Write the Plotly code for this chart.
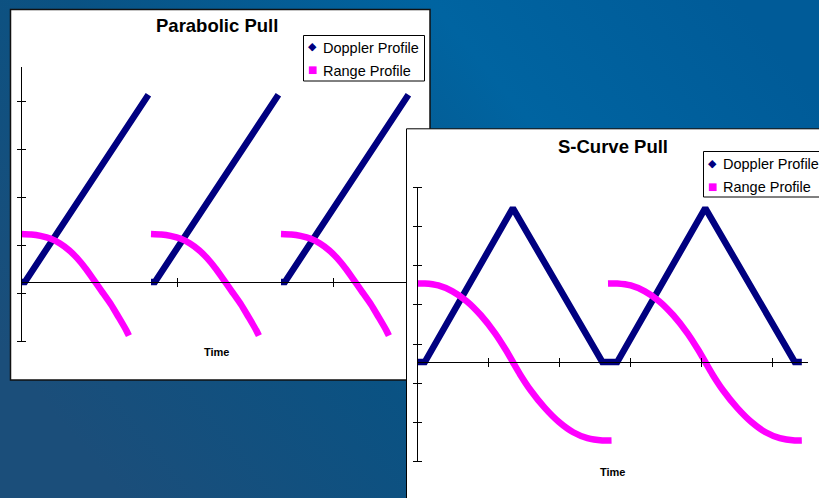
import base64
import plotly.graph_objects as go

# ---------------- data ----------------
# Chart 1: Parabolic Pull  (time axis: one pull cycle = 1.0)
para_time = [0.00, 0.03, 0.98, None, 1.00, 1.03, 1.98, None, 2.00, 2.03, 2.98]
para_doppler = [0.00, 0.00, 3.90, None, 0.00, 0.00, 3.90, None, 0.00, 0.00, 3.90]

para_range_time = [
    0.00, 0.08, 0.15, 0.23, 0.30, 0.37, 0.43, 0.50, 0.55, 0.62, 0.69, 0.75, 0.81, 0.83, None,
    1.00, 1.08, 1.15, 1.23, 1.30, 1.37, 1.43, 1.50, 1.55, 1.62, 1.69, 1.75, 1.81, 1.83, None,
    2.00, 2.08, 2.15, 2.23, 2.30, 2.37, 2.43, 2.50, 2.55, 2.62, 2.69, 2.75, 2.81, 2.83,
]
para_range = [
    1.00, 0.99, 0.96, 0.90, 0.80, 0.66, 0.50, 0.27, 0.08, -0.19, -0.46, -0.73, -1.01, -1.12, None,
    1.00, 0.99, 0.96, 0.90, 0.80, 0.66, 0.50, 0.27, 0.08, -0.19, -0.46, -0.73, -1.01, -1.12, None,
    1.00, 0.99, 0.96, 0.90, 0.80, 0.66, 0.50, 0.27, 0.08, -0.19, -0.46, -0.73, -1.01, -1.12,
]
para_xticks = [1.2, 2.4]
para_yticks = [-1.25, -0.25, 0.75, 1.75, 2.75, 3.75]

# Chart 2: S-Curve Pull
scurve_time = [0.00, 0.11, 1.35, 2.61, 2.82, 4.06, 5.32, 5.42]
scurve_doppler = [0.00, 0.00, 3.92, 0.00, 0.00, 3.92, 0.00, 0.00]

scurve_range_time = [
    0.00, 0.11, 0.30, 0.50, 0.70, 0.90, 1.10, 1.25, 1.35, 1.45, 1.60, 1.80, 2.00, 2.20, 2.40, 2.61, 2.74, None,
    2.69, 2.82, 3.01, 3.21, 3.41, 3.61, 3.81, 3.96, 4.06, 4.16, 4.31, 4.51, 4.71, 4.91, 5.11, 5.32, 5.42,
]
scurve_range = [
    2.00, 2.00, 1.95, 1.80, 1.55, 1.19, 0.73, 0.31, 0.00, -0.31, -0.72, -1.17, -1.53, -1.79, -1.94, -2.00, -2.00, None,
    2.00, 2.00, 1.95, 1.80, 1.55, 1.19, 0.73, 0.31, 0.00, -0.31, -0.72, -1.17, -1.53, -1.79, -1.94, -2.00, -2.00,
]
scurve_xticks = [1, 2, 3, 4, 5]
scurve_yticks = [-2.545, -1.545, -0.545, 0.455, 1.455, 2.455, 3.455, 4.455]

series_names = ["Doppler Profile", "Range Profile"]
titles = ["Parabolic Pull", "S-Curve Pull"]
axis_label = "Time"

# ---------------- styling ----------------
W, H = 819, 498
NAVY = "#000080"
MAGENTA = "#ff00ff"
FONT = "Liberation Sans, Arial, sans-serif"


def fx(p):
    return p / W


def fy(p):
    return 1 - p / H


# background gradient (decoration)
svg = (
    '<svg xmlns="http://www.w3.org/2000/svg" width="819" height="498" viewBox="0 0 819 498" '
    'preserveAspectRatio="none"><defs>'
    '<linearGradient id="g" x1="0" y1="0.7" x2="1" y2="0.2">'
    '<stop offset="0" stop-color="#1b4e7a"/>'
    '<stop offset="0.35" stop-color="#0a5283"/>'
    '<stop offset="0.7" stop-color="#0064a1"/>'
    '<stop offset="1" stop-color="#005b98"/>'
    '</linearGradient></defs>'
    '<rect width="819" height="498" fill="url(#g)"/></svg>'
)
bg_uri = "data:image/svg+xml;base64," + base64.b64encode(svg.encode()).decode()

fig = go.Figure()

# Chart 1 traces
fig.add_trace(go.Scatter(x=para_time, y=para_doppler, mode="lines", name=series_names[0],
                         line=dict(color=NAVY, width=6.5), xaxis="x", yaxis="y", hoverinfo="skip"))
fig.add_trace(go.Scatter(x=para_range_time, y=para_range, mode="lines", name=series_names[1],
                         line=dict(color=MAGENTA, width=6.5, shape="spline", smoothing=0.6),
                         xaxis="x", yaxis="y", hoverinfo="skip"))
# overlay axes for crossing tick marks
fig.add_trace(go.Scatter(x=[None], y=[None], mode="lines", xaxis="x4", yaxis="y4", hoverinfo="skip"))

# Chart 2 white panel (decoration, drawn above chart 1)
panel_x = [1.5, 430, 430, 1.5, 1.5]
panel_y = [-0.8, -0.8, -400, -400, -0.8]
fig.add_trace(go.Scatter(x=panel_x, y=panel_y, mode="lines", fill="toself", fillcolor="white",
                         line=dict(color="black", width=1), xaxis="x2", yaxis="y2", hoverinfo="skip"))

# Chart 2 traces
fig.add_trace(go.Scatter(x=scurve_time, y=scurve_doppler, mode="lines", name=series_names[0],
                         line=dict(color=NAVY, width=6.5), xaxis="x3", yaxis="y3", hoverinfo="skip"))
fig.add_trace(go.Scatter(x=scurve_range_time, y=scurve_range, mode="lines", name=series_names[1],
                         line=dict(color=MAGENTA, width=6.5, shape="spline", smoothing=0.6),
                         xaxis="x3", yaxis="y3", hoverinfo="skip"))
fig.add_trace(go.Scatter(x=[None], y=[None], mode="lines", xaxis="x5", yaxis="y5", hoverinfo="skip"))

axis_common = dict(showgrid=False, zeroline=False, showticklabels=False, ticklen=4,
                   tickcolor="black", tickwidth=1, linecolor="black", linewidth=1,
                   tickmode="array", fixedrange=True)

p1_xr = [0, (429 - 21) / 130]
p1_yr = [-1.252, (282 - 67) / 48]
p2_xr = [0, (808 - 417) / 71]
p2_yr = [-2.547, 4.457]

fig.update_layout(
    width=W, height=H, autosize=False,
    margin=dict(l=0, r=0, t=0, b=0),
    paper_bgcolor="#0a5688", plot_bgcolor="rgba(0,0,0,0)",
    showlegend=False,
    images=[dict(source=bg_uri, xref="paper", yref="paper", x=0, y=1, sizex=1, sizey=1,
                 xanchor="left", yanchor="top", sizing="stretch", layer="below")],
    # chart 1
    xaxis=dict(domain=[fx(21), fx(429)], range=p1_xr, anchor="free", position=fy(282),
               showline=True, ticks="outside", tickvals=para_xticks, **axis_common),
    yaxis=dict(domain=[fy(342), fy(67)], range=p1_yr, anchor="free", position=fx(21),
               showline=True, ticks="outside", tickvals=para_yticks, **axis_common),
    xaxis4=dict(overlaying="x", range=p1_xr, anchor="free", position=fy(282), side="top",
                showline=False, ticks="outside", tickvals=para_xticks, **axis_common),
    yaxis4=dict(overlaying="y", range=p1_yr, anchor="free", position=fx(21), side="right",
                showline=False, ticks="outside", tickvals=para_yticks, **axis_common),
    # chart 2 panel
    xaxis2=dict(domain=[fx(405), 1], range=[0, W - 405], anchor="y2", visible=False, fixedrange=True),
    yaxis2=dict(domain=[0, fy(128)], range=[-(H - 128), 0], anchor="x2", visible=False, fixedrange=True),
    # chart 2
    xaxis3=dict(domain=[fx(417), fx(808)], range=p2_xr, anchor="free", position=fy(362),
                showline=True, ticks="outside", tickvals=scurve_xticks, **axis_common),
    yaxis3=dict(domain=[fy(462), fy(187)], range=p2_yr, anchor="free", position=fx(417),
                showline=True, ticks="outside", tickvals=scurve_yticks, **axis_common),
    xaxis5=dict(overlaying="x3", range=p2_xr, anchor="free", position=fy(362), side="top",
                showline=False, ticks="outside", tickvals=scurve_xticks, **axis_common),
    yaxis5=dict(overlaying="y3", range=p2_yr, anchor="free", position=fx(417), side="right",
                showline=False, ticks="outside", tickvals=scurve_yticks, **axis_common),
)

shapes = [
    # chart 1 white card
    dict(type="rect", xref="paper", yref="paper", x0=fx(10.5), x1=fx(430), y0=fy(380), y1=fy(9.5),
         fillcolor="white", line=dict(color="#111111", width=1.5), layer="below"),
    # legend boxes
    dict(type="rect", xref="paper", yref="paper", x0=fx(303.5), x1=fx(424.5), y0=fy(81), y1=fy(35.5),
         fillcolor="white", line=dict(color="black", width=1), layer="above"),
    dict(type="rect", xref="paper", yref="paper", x0=fx(703.5), x1=fx(840), y0=fy(197), y1=fy(151.5),
         fillcolor="white", line=dict(color="black", width=1), layer="above"),
]
fig.update_layout(shapes=shapes)

ann = []
# titles
ann.append(dict(text="<b>" + titles[0] + "</b>", x=fx(216.5), y=fy(26), xref="paper", yref="paper",
                showarrow=False, xanchor="center", yanchor="middle",
                font=dict(family=FONT, size=18.5, color="black")))
ann.append(dict(text="<b>" + titles[1] + "</b>", x=fx(612.5), y=fy(146), xref="paper", yref="paper",
                showarrow=False, xanchor="center", yanchor="middle",
                font=dict(family=FONT, size=18.5, color="black")))
# axis labels
for cx, cy in [(216, 352), (612, 472)]:
    ann.append(dict(text="<b>" + axis_label + "</b>", x=fx(cx), y=fy(cy), xref="paper", yref="paper",
                    showarrow=False, xanchor="center", yanchor="middle",
                    font=dict(family=FONT, size=11, color="black")))
# legends
for dy in [0, 116]:
    lx = 303 if dy == 0 else 703
    ann.append(dict(text="\u25c6", x=fx(lx + 9), y=fy(47 + dy), xref="paper", yref="paper",
                    showarrow=False, xanchor="center", yanchor="middle",
                    font=dict(family="DejaVu Sans", size=11, color=NAVY)))
    ann.append(dict(text="\u25a0", x=fx(lx + 9), y=fy(70 + dy), xref="paper", yref="paper",
                    showarrow=False, xanchor="center", yanchor="middle",
                    font=dict(family="DejaVu Sans", size=10, color=MAGENTA)))
    ann.append(dict(text=series_names[0], x=fx(lx + 18), y=fy(48 + dy), xref="paper", yref="paper",
                    showarrow=False, xanchor="left", yanchor="middle",
                    font=dict(family=FONT, size=14.5, color="black")))
    ann.append(dict(text=series_names[1], x=fx(lx + 18), y=fy(71 + dy), xref="paper", yref="paper",
                    showarrow=False, xanchor="left", yanchor="middle",
                    font=dict(family=FONT, size=14.5, color="black")))
fig.update_layout(annotations=ann)

fig.write_html(
    "out.html",
    config={"displayModeBar": False, "staticPlot": True},
    post_script="document.body.style.margin='0';document.body.style.padding='0';"
                "document.body.style.overflow='hidden';",
)
